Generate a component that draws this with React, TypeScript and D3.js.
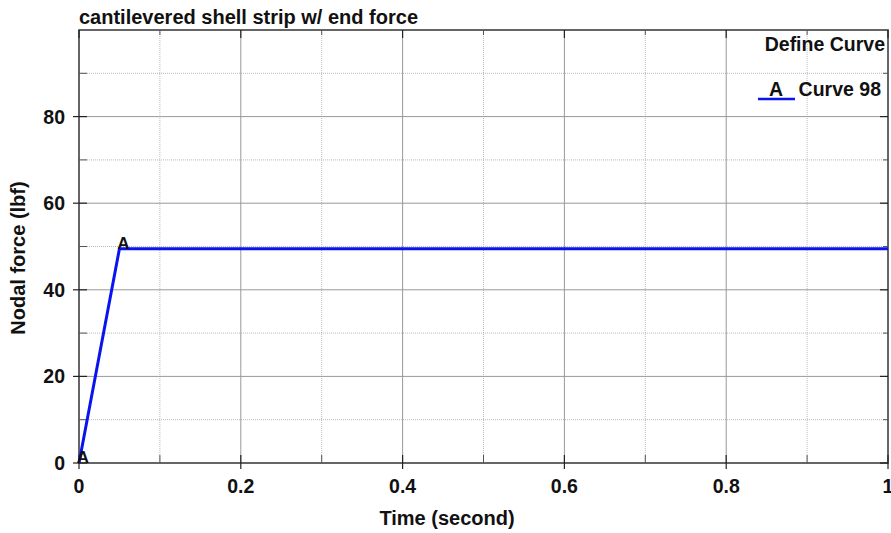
import React from "react";
import * as d3 from "d3";

const timeValues = [0, 0.05, 1];
const forceValues = [0, 49.5, 49.5];
const xTicks = [0, 0.2, 0.4, 0.6, 0.8, 1];
const xMinor = [0.1, 0.3, 0.5, 0.7, 0.9];
const yTicks = [0, 20, 40, 60, 80];
const yMinor = [10, 30, 50, 70, 90];
const labeledIdx = [0, 1];

const W = 891, H = 533;
const M = { left: 79, right: 888, top: 30, bottom: 463 };
const FONT = "Arial, 'Liberation Sans', sans-serif";

export default function App() {
  const x = d3.scaleLinear().domain([0, 1]).range([M.left, M.right]);
  const y = d3.scaleLinear().domain([0, 100]).range([M.bottom, M.top]);
  const line = d3.line<number>().x((_, i) => x(timeValues[i])).y((d) => y(d));
  const pw = M.right - M.left, ph = M.bottom - M.top;
  return (
    <svg width={W} height={H} style={{ position: "absolute", left: 0, top: 0 }} fontFamily={FONT}>
      <rect x={0} y={0} width={W} height={H} fill="#fff" />
      {xMinor.map((v) => (
        <line key={"xm" + v} x1={x(v)} x2={x(v)} y1={M.top} y2={M.bottom} stroke="#bbb" strokeWidth={1} strokeDasharray="1,1" />
      ))}
      {yMinor.map((v) => (
        <line key={"ym" + v} x1={M.left} x2={M.right} y1={y(v)} y2={y(v)} stroke="#bbb" strokeWidth={1} strokeDasharray="1,1" />
      ))}
      {xTicks.slice(1, -1).map((v) => (
        <line key={"xg" + v} x1={x(v)} x2={x(v)} y1={M.top} y2={M.bottom} stroke="#999" strokeWidth={1} />
      ))}
      {yTicks.slice(1).map((v) => (
        <line key={"yg" + v} x1={M.left} x2={M.right} y1={y(v)} y2={y(v)} stroke="#999" strokeWidth={1} />
      ))}
      <rect x={M.left} y={M.top} width={pw} height={ph} fill="none" stroke="#333" strokeWidth={1.5} />
      {xTicks.map((v) => (
        <g key={"xt" + v}>
          <line x1={x(v)} x2={x(v)} y1={M.bottom - 8} y2={M.bottom + 6} stroke="#222" strokeWidth={1.2} />
          <line x1={x(v)} x2={x(v)} y1={M.top} y2={M.top + 8} stroke="#222" strokeWidth={1.2} />
          <text x={x(v)} y={M.bottom + 30} textAnchor="middle" fontSize={19.5} fontWeight="bold" fill="#111">{v}</text>
        </g>
      ))}
      {xMinor.map((v) => (
        <g key={"xmt" + v}>
          <line x1={x(v)} x2={x(v)} y1={M.bottom - 8} y2={M.bottom} stroke="#555" strokeWidth={1} />
          <line x1={x(v)} x2={x(v)} y1={M.top} y2={M.top + 5} stroke="#555" strokeWidth={1} />
        </g>
      ))}
      {yTicks.map((v) => (
        <g key={"yt" + v}>
          <line x1={M.left - 6} x2={M.left + 8} y1={y(v)} y2={y(v)} stroke="#222" strokeWidth={1.2} />
          <line x1={M.right - 8} x2={M.right} y1={y(v)} y2={y(v)} stroke="#222" strokeWidth={1.2} />
          <text x={M.left - 14} y={y(v) + 7} textAnchor="end" fontSize={19.5} fontWeight="bold" fill="#111">{v}</text>
        </g>
      ))}
      {yMinor.map((v) => (
        <g key={"ymt" + v}>
          <line x1={M.left} x2={M.left + 8} y1={y(v)} y2={y(v)} stroke="#555" strokeWidth={1} />
          <line x1={M.right - 5} x2={M.right} y1={y(v)} y2={y(v)} stroke="#555" strokeWidth={1} />
        </g>
      ))}
      <path d={line(forceValues) || ""} fill="none" stroke="#0a14f0" strokeWidth={3} />
      {labeledIdx.map((i) => (
        <text key={"lbl" + i} x={x(timeValues[i]) + 4} y={y(forceValues[i]) + 0} textAnchor="middle" fontSize={17} fontWeight="bold" fill="#111">A</text>
      ))}
      <text x={79} y={24} fontSize={20} fontWeight="bold" fill="#111">cantilevered shell strip w/ end force</text>
      <text x={447} y={525} textAnchor="middle" fontSize={20} fontWeight="bold" fill="#111">Time (second)</text>
      <text transform={`translate(25, 258) rotate(-90)`} textAnchor="middle" fontSize={20} fontWeight="bold" fill="#111">Nodal force (lbf)</text>
      <text x={885} y={51} textAnchor="end" fontSize={19.5} fontWeight="bold" fill="#111">Define Curve</text>
      <line x1={758} x2={795} y1={99} y2={99} stroke="#0a14f0" strokeWidth={2.5} />
      <text x={776} y={96} textAnchor="middle" fontSize={19.5} fontWeight="bold" fill="#111">A</text>
      <text x={881} y={96} textAnchor="end" fontSize={19.5} fontWeight="bold" fill="#111">Curve 98</text>
    </svg>
  );
}
